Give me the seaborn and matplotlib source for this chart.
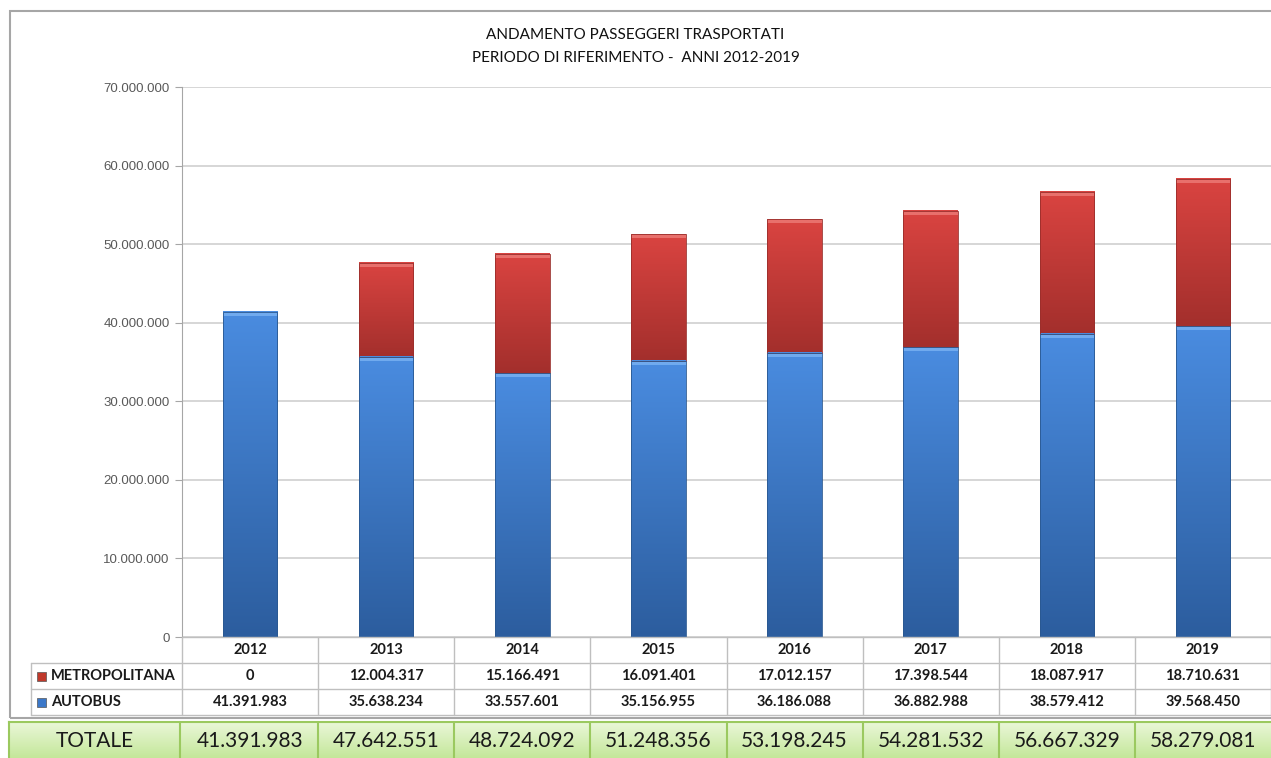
import numpy as np
import pandas as pd
import seaborn as sns
import matplotlib
matplotlib.use('Agg')
import matplotlib.pyplot as plt
from matplotlib.colors import LinearSegmentedColormap
from matplotlib.patches import Rectangle
import matplotlib.transforms as mtransforms

years = ['2012', '2013', '2014', '2015', '2016', '2017', '2018', '2019']
metropolitana = [0, 12004317, 15166491, 16091401, 17012157, 17398544, 18087917, 18710631]
autobus = [41391983, 35638234, 33557601, 35156955, 36186088, 36882988, 38579412, 39568450]
totale = [41391983, 47642551, 48724092, 51248356, 53198245, 54281532, 56667329, 58279081]
title_lines = ['ANDAMENTO PASSEGGERI TRASPORTATI', 'PERIODO DI RIFERIMENTO -  ANNI 2012-2019']

W, H = 1271, 758


def fx(x):
    return x / W


def fy(y):
    return 1 - y / H


def itfmt(v):
    return f'{int(v):,}'.replace(',', '.')


sns.set_style('white')
plt.rcParams['font.family'] = ['Lato', 'DejaVu Sans']

fig = plt.figure(figsize=(W / 100, H / 100), dpi=100)
fig.patch.set_facecolor('white')

# outer chart frame (right side runs off the picture)
fig.add_artist(Rectangle((fx(10), fy(718)), fx(1300 - 10), (718 - 11) / H,
                         transform=fig.transFigure, fill=False,
                         edgecolor='#a6a6a6', linewidth=1.5))

ax = fig.add_axes([fx(182), fy(637), fx(1271 - 182), (637 - 87) / H])

df = pd.DataFrame({'anno': years, 'autobus': autobus, 'metro': metropolitana, 'tot': totale})

sns.barplot(data=df, x='anno', y='tot', color='#c0392b', width=0.4, ax=ax, zorder=2)
sns.barplot(data=df, x='anno', y='autobus', color='#3b78c9', width=0.4, ax=ax, zorder=2)

red_cmap = LinearSegmentedColormap.from_list('r', ['#a32f2c', '#da4441'])
blue_cmap = LinearSegmentedColormap.from_list('b', ['#2c5d9e', '#4a8ce0'])
grad = np.linspace(0, 1, 256).reshape(-1, 1)
bevel = 70_000_000 * 4 / 550

n = len(years)
for i, p in enumerate(ax.patches):
    x0, w = p.get_x(), p.get_width()
    k = i % n
    p.set_facecolor('none')
    p.set_edgecolor('none')
    if i < n:
        lo, hi, cm, light, edge = autobus[k], totale[k], red_cmap, '#e8706c', '#9a2e2b'
    else:
        lo, hi, cm, light, edge = 0, autobus[k], blue_cmap, '#70aaee', '#2a5890'
    if hi - lo <= 0:
        continue
    ax.imshow(grad, extent=[x0, x0 + w, lo, hi], origin='lower', cmap=cm,
              aspect='auto', zorder=3, interpolation='bilinear')
    ax.add_patch(Rectangle((x0, hi - bevel), w, bevel, facecolor=light,
                           edgecolor='none', zorder=4))
    ax.add_patch(Rectangle((x0, lo), w, hi - lo, facecolor='none',
                           edgecolor=edge, linewidth=0.6, zorder=5))

ax.set_xlim(-0.5, n - 0.5)
ax.set_ylim(0, 70_000_000)
ax.set_yticks(np.arange(0, 70_000_001, 10_000_000))
ax.set_yticklabels([itfmt(v) for v in ax.get_yticks()], fontsize=9.5,
                   color='#595959', family=['Liberation Sans', 'DejaVu Sans'])
ax.set_xticks([])
ax.set_xlabel('')
ax.set_ylabel('')
ax.grid(axis='y', color='#d0d0d0', linewidth=1.2, zorder=0)
ax.set_axisbelow(True)
for s in ['top', 'right', 'bottom']:
    ax.spines[s].set_visible(False)
ax.spines['left'].set_color('#a6a6a6')
ax.tick_params(axis='y', length=5, color='#a6a6a6', left=True, pad=4)

fig.text(0.5, fy(35), title_lines[0], ha='center', va='center', fontsize=11, color='#111111')
fig.text(0.5, fy(58), title_lines[1], ha='center', va='center', fontsize=11, color='#111111')

# data table under the axis
lc = '#bfbfbf'
trans = mtransforms.blended_transform_factory(ax.transData, fig.transFigure)
for y, x0 in [(637, 182), (663, 31), (689, 31), (715, 31)]:
    fig.add_artist(plt.Line2D([fx(x0), 1], [fy(y), fy(y)], color=lc, lw=1, transform=fig.transFigure))
fig.add_artist(plt.Line2D([fx(31), fx(31)], [fy(663), fy(715)], color=lc, lw=1, transform=fig.transFigure))
for k in range(n + 1):
    fig.add_artist(plt.Line2D([k - 0.5, k - 0.5], [fy(637), fy(715)], color=lc, lw=1, transform=trans))

for k in range(n):
    fig.text(k, fy(650), years[k], transform=trans, ha='center', va='center',
             fontsize=10.5, fontweight='bold', color='#1a1a1a')
    fig.text(k, fy(676), itfmt(metropolitana[k]), transform=trans, ha='center', va='center',
             fontsize=10.5, fontweight='bold', color='#1a1a1a')
    fig.text(k, fy(702), itfmt(autobus[k]), transform=trans, ha='center', va='center',
             fontsize=10.5, fontweight='bold', color='#1a1a1a')

for y, col, lab in [(676, '#c0392b', 'METROPOLITANA'), (702, '#3b78c9', 'AUTOBUS')]:
    fig.add_artist(Rectangle((fx(37), fy(y + 4.5)), fx(9), 9 / H, facecolor=col,
                             edgecolor='#555555', lw=0.5, transform=fig.transFigure))
    fig.text(fx(51), fy(y), lab, ha='left', va='center', fontsize=10.5,
             fontweight='bold', color='#1a1a1a')

# TOTALE row
tax = fig.add_axes([fx(9), 0, 1 - fx(9), (758 - 722) / H])
tax.imshow(np.linspace(0, 1, 64).reshape(-1, 1), extent=[0, 1, 0, 1], origin='lower',
           cmap=LinearSegmentedColormap.from_list('g', ['#c4e79a', '#eaf7d8']), aspect='auto')
tax.set_xlim(0, 1)
tax.set_ylim(0, 1)
tax.set_xticks([])
tax.set_yticks([])
for s in tax.spines.values():
    s.set_color('#9bc95f')
    s.set_linewidth(1.5)
tax.spines['right'].set_visible(False)
tax.spines['bottom'].set_visible(False)
fig.add_artist(plt.Line2D([fx(180), fx(180)], [0, fy(722)], color='#9bc95f', lw=1.5, transform=fig.transFigure))
for k in range(1, n):
    fig.add_artist(plt.Line2D([k - 0.5, k - 0.5], [0, fy(722)], color='#9bc95f', lw=1.5, transform=trans))
fig.text(fx(95), fy(741), 'TOTALE', ha='center', va='center', fontsize=15, color='#1a1a1a')
for k in range(n):
    fig.text(k, fy(741), itfmt(totale[k]), transform=trans, ha='center', va='center',
             fontsize=15, color='#1a1a1a')

fig.savefig('out.png', dpi=100)
